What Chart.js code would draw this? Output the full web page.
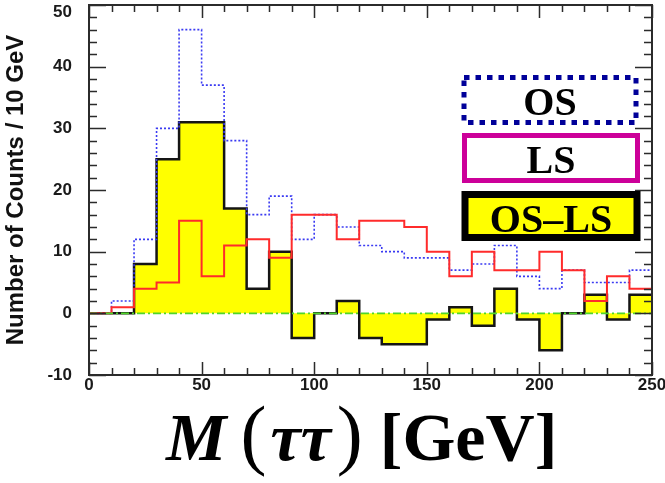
<!DOCTYPE html>
<html>
<head>
<meta charset="utf-8">
<title>M(ττ) — OS, LS, OS−LS</title>
<script src="https://cdn.jsdelivr.net/npm/chart.js@4"></script>
<style>
  html, body { margin: 0; padding: 0; background: #fff; }
  #wrap { position: relative; width: 665px; height: 483px; overflow: hidden; }
  #hist { position: absolute; left: 0; top: 0; }
  #keys { position: absolute; left: 0; top: 0; }
  .xtitle {
    position: absolute; left: 166px; top: 403px;
    font-family: "Liberation Serif", "Times New Roman", serif;
    font-weight: bold; font-size: 68px; line-height: 68px;
    white-space: nowrap; color: #000;
  }
  .xtitle .par { font-weight: normal; font-size: 78px; line-height: 0; }
</style>
</head>
<body>
<div id="wrap">
  <canvas id="hist" width="665" height="483"></canvas>
  <svg id="keys" width="665" height="483">
    <g font-family="Liberation Serif, Times New Roman, serif" font-weight="bold" font-size="40" text-anchor="middle">
      <rect x="464" y="77.5" width="172" height="45" fill="#fff" stroke="#000099" stroke-width="5" stroke-dasharray="5.5 6"/>
      <text x="550" y="115">OS</text>
      <rect x="464.5" y="135.5" width="173" height="45" fill="#fff" stroke="#cc0099" stroke-width="5"/>
      <text x="551" y="173">LS</text>
      <rect x="465" y="194.5" width="172" height="43" fill="#ffff00" stroke="#000" stroke-width="7"/>
      <text x="551" y="232">OS–LS</text>
    </g>
  </svg>
  <div class="xtitle"><i>M</i><span class="par" style="margin-left:14px">(</span><i style="margin-left:4px">ττ</i><span class="par" style="margin-left:6px">)</span> [GeV]</div>
</div>
<script>
// 10 GeV bins from 0 to 250
const binEdges = [0, 10, 20, 30, 40, 50, 60, 70, 80, 90, 100, 110, 120, 130, 140, 150,
                  160, 170, 180, 190, 200, 210, 220, 230, 240, 250];
const osCounts   = [0, 2, 12, 30, 46, 37, 28, 16, 19, 12, 16, 14, 11, 10, 9, 9, 7, 8, 11, 6, 4, 7, 5, 5, 7];
const lsCounts   = [0, 1, 4, 5, 15, 6, 11, 12, 9, 16, 16, 12, 15, 15, 14, 10, 6, 10, 7, 7, 10, 7, 2, 6, 4];
const diffCounts = [0, 0, 8, 25, 31, 31, 17, 4, 10, -4, 0, 2, -4, -5, -5, -1, 1, -2, 4, -1, -6, 0, 3, -1, 3];
const yRange = [-10, 50];
const xRange = [0, 250];

// histogram -> step points (left edge of each bin, plus the closing edge)
function steps(vals) {
  const pts = vals.map((v, i) => ({ x: binEdges[i], y: v }));
  pts.push({ x: binEdges[vals.length], y: vals[vals.length - 1] });
  return pts;
}

// ROOT-like frame with inward ticks on all four sides
const frameTicks = {
  id: 'frameTicks',
  afterDatasetsDraw(chart) {
    const { ctx, chartArea: a, scales: { x, y } } = chart;
    ctx.save();
    ctx.strokeStyle = '#2b2b2b';
    ctx.lineWidth = 1.5;
    ctx.beginPath();
    for (let v = yRange[0]; v <= yRange[1]; v += 2) {
      const py = Math.round(y.getPixelForValue(v)) + 0.5;
      const len = v % 10 === 0 ? 17 : 8;
      ctx.moveTo(a.left, py); ctx.lineTo(a.left + len, py);
      ctx.moveTo(a.right, py); ctx.lineTo(a.right - len, py);
    }
    for (let v = xRange[0]; v <= xRange[1]; v += 10) {
      const px = Math.round(x.getPixelForValue(v)) + 0.5;
      const len = v % 50 === 0 ? 13 : 7;
      ctx.moveTo(px, a.bottom); ctx.lineTo(px, a.bottom - len);
      ctx.moveTo(px, a.top); ctx.lineTo(px, a.top + len);
    }
    ctx.stroke();
    ctx.lineWidth = 2;
    ctx.strokeRect(a.left, a.top, a.right - a.left, a.bottom - a.top);
    ctx.restore();
  }
};

const tickFont = { family: 'Liberation Sans, Arial, sans-serif', size: 17, weight: 'bold', lineHeight: 0.85 };

new Chart(document.getElementById('hist'), {
  type: 'line',
  data: {
    datasets: [
      {
        label: 'zero',
        data: [{ x: xRange[0], y: 0 }, { x: xRange[1], y: 0 }],
        borderColor: '#4fd62a', borderWidth: 1.6, borderDash: [8, 3, 2, 3],
        pointRadius: 0, fill: false
      },
      {
        label: 'LS',
        data: steps(lsCounts),
        stepped: 'before', borderColor: '#ff2b2b', borderWidth: 2,
        pointRadius: 0, fill: false
      },
      {
        label: 'OS',
        data: steps(osCounts),
        stepped: 'before', borderColor: '#3a3af2', borderWidth: 1.6, borderDash: [2, 2],
        pointRadius: 0, fill: false
      },
      {
        label: 'OS-LS',
        data: steps(diffCounts),
        stepped: 'before', borderColor: '#151515', borderWidth: 2.5,
        backgroundColor: '#ffff00', fill: 'origin',
        pointRadius: 0
      }
    ]
  },
  options: {
    responsive: false,
    animation: false,
    layout: { padding: { top: 5, right: 13, left: 0, bottom: 0 } },
    plugins: { legend: { display: false }, tooltip: { enabled: false } },
    scales: {
      x: {
        type: 'linear', min: xRange[0], max: xRange[1],
        grid: { display: false, drawTicks: false },
        border: { display: false },
        ticks: { stepSize: 50, padding: 3, color: '#1a1a1a', font: tickFont, maxRotation: 0 },
        afterFit(s) { s.height = 108; s.paddingLeft = 0; s.paddingRight = 0; }
      },
      y: {
        type: 'linear', min: yRange[0], max: yRange[1],
        grid: { display: false, drawTicks: false },
        border: { display: false },
        ticks: {
          stepSize: 10, padding: 17, color: '#1a1a1a', font: tickFont,
          // top label sits just under the frame edge
          callback: v => v === yRange[1] ? ['', String(v)] : String(v)
        },
        title: {
          display: true, text: 'Number of Counts / 10 GeV', color: '#111',
          font: { family: 'Liberation Sans, Arial, sans-serif', size: 24, weight: 'bold' },
          padding: { top: 2, bottom: 0 }
        },
        afterFit(s) { s.width = 89; s.paddingTop = 0; s.paddingBottom = 0; }
      }
    }
  },
  plugins: [frameTicks]
});
</script>
</body>
</html>
